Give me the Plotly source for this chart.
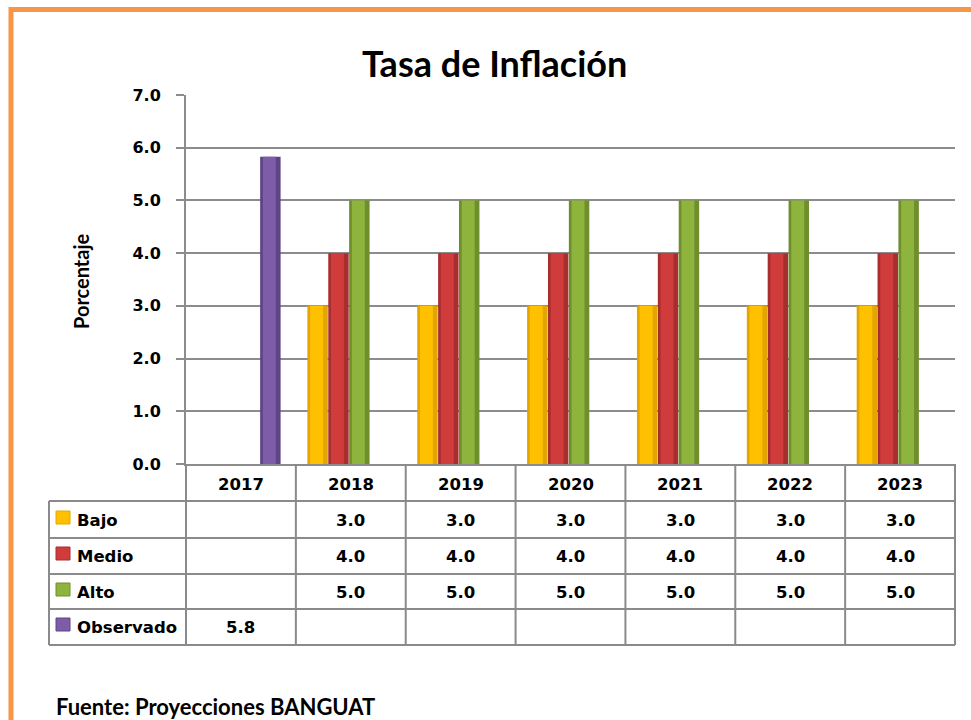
import plotly.graph_objects as go

# ---------------- data ----------------
years = ["2017", "2018", "2019", "2020", "2021", "2022", "2023"]
series_names = ["Bajo", "Medio", "Alto", "Observado"]
bajo = [None, 3.0, 3.0, 3.0, 3.0, 3.0, 3.0]
medio = [None, 4.0, 4.0, 4.0, 4.0, 4.0, 4.0]
alto = [None, 5.0, 5.0, 5.0, 5.0, 5.0, 5.0]
observado = [5.83, None, None, None, None, None, None]
y_ticks = [0, 1, 2, 3, 4, 5, 6, 7]

title_text = "Tasa de Inflación"
y_title = "Porcentaje"
source_text = "Fuente: Proyecciones BANGUAT"

# ---------------- styling ----------------
W, H = 971, 720
L, R, T, B = 186, 955, 95, 464  # plot area in px
colors_main = ["#FFC000", "#D03C3C", "#8FB43E", "#7D5CA8"]
colors_edge = ["#E3A600", "#A82E2E", "#6F8E2C", "#5E4485"]
GRID = "#8C8C8C"
TABLE = "#8A8A8A"
ORANGE = "#F79646"
NUM_FONT = "DejaVu Sans"
TXT_FONT = "Lato"

series_values = [bajo, medio, alto, observado]
n_cat = len(years)
slot = 0.19
shift = -0.017


def px_y(py):
    return (B - py) / (B - T)


def px_x(px):
    return (px - L) / (R - L)


def cat_edge(i):
    return i / n_cat


def cat_center(i):
    return (i + 0.5) / n_cat


fig = go.Figure()
for k, (name, vals) in enumerate(zip(series_names, series_values)):
    center_off = (k - 1.5) * slot + shift
    fig.add_trace(go.Bar(
        x=years, y=vals, name=name, width=slot * 0.98,
        offset=center_off - slot * 0.49,
        marker=dict(color=colors_edge[k], line=dict(width=0)),
        showlegend=False, hoverinfo="skip"))
    fig.add_trace(go.Bar(
        x=years, y=vals, name=name, width=slot * 0.62,
        offset=center_off - slot * 0.36,
        marker=dict(color=colors_main[k], line=dict(width=0)),
        showlegend=False))

shapes = []
# orange frame (top and left)
shapes.append(dict(type="line", xref="paper", yref="paper",
                   x0=px_x(9), x1=px_x(W + 10), y0=px_y(9.5), y1=px_y(9.5),
                   line=dict(color=ORANGE, width=5)))
shapes.append(dict(type="line", xref="paper", yref="paper",
                   x0=px_x(11), x1=px_x(11), y0=px_y(7), y1=px_y(H + 10),
                   line=dict(color=ORANGE, width=5)))

# table
row_edges = [501, 538, 574, 609, 645]
table_left = 49
for ry in row_edges:
    shapes.append(dict(type="line", xref="paper", yref="paper",
                       x0=px_x(table_left), x1=1, y0=px_y(ry), y1=px_y(ry),
                       line=dict(color=TABLE, width=2)))
shapes.append(dict(type="line", xref="paper", yref="paper",
                   x0=px_x(table_left), x1=px_x(table_left),
                   y0=px_y(row_edges[0]), y1=px_y(row_edges[-1]),
                   line=dict(color=TABLE, width=2)))
for i in range(n_cat + 1):
    shapes.append(dict(type="line", xref="paper", yref="paper",
                       x0=cat_edge(i), x1=cat_edge(i),
                       y0=0, y1=px_y(row_edges[-1]),
                       line=dict(color=TABLE, width=2)))

annotations = []
# title
annotations.append(dict(text=title_text, xref="paper", yref="paper",
                        x=px_x(494), y=px_y(63), showarrow=False,
                        xanchor="center", yanchor="middle",
                        font=dict(family=TXT_FONT, size=36, color="black", weight="bold")))
annotations.append(dict(text=y_title, xref="paper", yref="paper",
                        x=px_x(81), y=px_y(281), showarrow=False, textangle=-90,
                        xanchor="center", yanchor="middle",
                        font=dict(family=TXT_FONT, size=20, color="black", weight="bold")))
annotations.append(dict(text=source_text, xref="paper", yref="paper",
                        x=px_x(54), y=px_y(706), showarrow=False,
                        xanchor="left", yanchor="middle",
                        font=dict(family=TXT_FONT, size=22, color="black", weight="bold")))

header_y = 484
row_centers = [520, 556, 592, 627]
for i, yr in enumerate(years):
    annotations.append(dict(text=yr, xref="paper", yref="paper", x=cat_center(i),
                            y=px_y(header_y), showarrow=False,
                            xanchor="center", yanchor="middle",
                            font=dict(family=NUM_FONT, size=16.5, color="black", weight="bold")))
for k, (name, vals) in enumerate(zip(series_names, series_values)):
    rc = row_centers[k]
    shapes.append(dict(type="rect", xref="paper", yref="paper",
                       x0=px_x(56), x1=px_x(70), y0=px_y(rc - 9), y1=px_y(rc + 4),
                       fillcolor=colors_main[k], line=dict(color=colors_edge[k], width=1)))
    annotations.append(dict(text=name, xref="paper", yref="paper", x=px_x(75), y=px_y(rc),
                            showarrow=False, xanchor="left", yanchor="middle",
                            font=dict(family=NUM_FONT, size=16.5, color="black", weight="bold")))
    for i, v in enumerate(vals):
        if v is None:
            continue
        annotations.append(dict(text=f"{v:.1f}", xref="paper", yref="paper",
                                x=cat_center(i), y=px_y(rc),
                                showarrow=False, xanchor="center", yanchor="middle",
                                font=dict(family=NUM_FONT, size=16.5, color="black", weight="bold")))

fig.update_layout(
    width=W, height=H,
    margin=dict(l=L, r=W - R, t=T, b=H - B, pad=0),
    paper_bgcolor="white", plot_bgcolor="white",
    barmode="overlay",
    shapes=shapes, annotations=annotations,
    xaxis=dict(type="category", range=[-0.5, n_cat - 0.5], showticklabels=False,
               showgrid=False, zeroline=False, showline=True, linecolor=GRID, linewidth=2,
               ticks=""),
    yaxis=dict(range=[0, 7], tickvals=y_ticks, tickformat=".1f",
               showgrid=True, gridcolor=GRID, gridwidth=1.5, zeroline=False,
               showline=True, linecolor=GRID, linewidth=2,
               ticks="outside", ticklen=8, tickcolor=GRID, tickwidth=1.5,
               ticklabelstandoff=12,
               tickfont=dict(family=NUM_FONT, size=16, color="black", weight="bold")),
)

fig.write_html("out.html", config={"displayModeBar": False},
               post_script="document.body.style.margin='0';document.body.style.padding='0';")
